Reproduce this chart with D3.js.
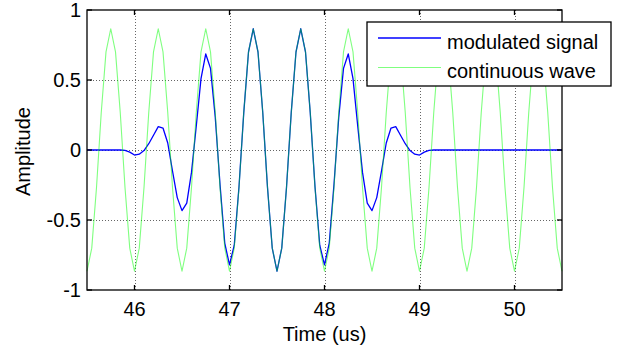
<!DOCTYPE html>
<html>
<head>
<meta charset="utf-8">
<script src="https://cdn.jsdelivr.net/npm/d3@7"></script>
<style>
  html, body { margin: 0; padding: 0; background: #fff; }
  svg { display: block; font-family: "Liberation Sans", Arial, sans-serif; }
</style>
</head>
<body>
<svg id="chart" width="619" height="349"></svg>
<script>
// Sample times (us), 45.5 to 50.5 in 0.05 us steps
const times = [
  45.50, 45.55, 45.60, 45.65, 45.70, 45.75, 45.80, 45.85, 45.90, 45.95,
  46.00, 46.05, 46.10, 46.15, 46.20, 46.25, 46.30, 46.35, 46.40, 46.45,
  46.50, 46.55, 46.60, 46.65, 46.70, 46.75, 46.80, 46.85, 46.90, 46.95,
  47.00, 47.05, 47.10, 47.15, 47.20, 47.25, 47.30, 47.35, 47.40, 47.45,
  47.50, 47.55, 47.60, 47.65, 47.70, 47.75, 47.80, 47.85, 47.90, 47.95,
  48.00, 48.05, 48.10, 48.15, 48.20, 48.25, 48.30, 48.35, 48.40, 48.45,
  48.50, 48.55, 48.60, 48.65, 48.70, 48.75, 48.80, 48.85, 48.90, 48.95,
  49.00, 49.05, 49.10, 49.15, 49.20, 49.25, 49.30, 49.35, 49.40, 49.45,
  49.50, 49.55, 49.60, 49.65, 49.70, 49.75, 49.80, 49.85, 49.90, 49.95,
  50.00, 50.05, 50.10, 50.15, 50.20, 50.25, 50.30, 50.35, 50.40, 50.45,
  50.50
];

// Burst (modulated signal) amplitude at each sample
const modulatedSignal = [
  0, 0, 0, 0, 0, 0, 0, 0, -0.003, -0.015,
  -0.036, -0.030, -0.004, 0.045, 0.105, 0.167, 0.157, 0.050, -0.150, -0.340,
  -0.433, -0.380, -0.160, 0.170, 0.510, 0.686, 0.583, 0.235, -0.245, -0.665,
  -0.821, -0.680, -0.262, 0.265, 0.700, 0.866, 0.700, 0.268, -0.268, -0.701,
  -0.866, -0.701, -0.268, 0.268, 0.700, 0.866, 0.700, 0.265, -0.262, -0.680,
  -0.821, -0.665, -0.245, 0.235, 0.583, 0.686, 0.510, 0.170, -0.160, -0.380,
  -0.433, -0.340, -0.150, 0.050, 0.157, 0.167, 0.105, 0.045, -0.004, -0.030,
  -0.036, -0.015, -0.003, 0, 0, 0, 0, 0, 0, 0,
  0, 0, 0, 0, 0, 0, 0, 0, 0, 0,
  0, 0, 0, 0, 0, 0, 0, 0, 0, 0,
  0
];

// Continuous 2 MHz wave at each sample
const continuousWave = [
  -0.866, -0.701, -0.268, 0.268, 0.701, 0.866, 0.701, 0.268, -0.268, -0.701,
  -0.866, -0.701, -0.268, 0.268, 0.701, 0.866, 0.701, 0.268, -0.268, -0.701,
  -0.866, -0.701, -0.268, 0.268, 0.701, 0.866, 0.701, 0.268, -0.268, -0.701,
  -0.866, -0.701, -0.268, 0.268, 0.701, 0.866, 0.701, 0.268, -0.268, -0.701,
  -0.866, -0.701, -0.268, 0.268, 0.701, 0.866, 0.701, 0.268, -0.268, -0.701,
  -0.866, -0.701, -0.268, 0.268, 0.701, 0.866, 0.701, 0.268, -0.268, -0.701,
  -0.866, -0.701, -0.268, 0.268, 0.701, 0.866, 0.701, 0.268, -0.268, -0.701,
  -0.866, -0.701, -0.268, 0.268, 0.701, 0.866, 0.701, 0.268, -0.268, -0.701,
  -0.866, -0.701, -0.268, 0.268, 0.701, 0.866, 0.701, 0.268, -0.268, -0.701,
  -0.866, -0.701, -0.268, 0.268, 0.701, 0.866, 0.701, 0.268, -0.268, -0.701,
  -0.866
];

const xTicks = [46, 47, 48, 49, 50];
const yTicks = [-1, -0.5, 0, 0.5, 1];
const yTickLabels = ["-1", "-0.5", "0", "0.5", "1"];
const seriesNames = ["modulated signal", "continuous wave"];
const xLabel = "Time (us)";
const yLabel = "Amplitude";

const svg = d3.select("#chart");
const plotL = 87, plotR = 562, plotT = 10, plotB = 290;
const fontSize = 20;

const x = d3.scaleLinear().domain([45.5, 50.5]).range([plotL, plotR]);
const y = d3.scaleLinear().domain([-1, 1]).range([plotB, plotT]);

// Dotted grid
const grid = svg.append("g")
  .attr("stroke", "#666")
  .attr("stroke-width", 1)
  .attr("stroke-dasharray", "1,2");
grid.selectAll("line.gx").data(xTicks).join("line")
  .attr("x1", d => Math.round(x(d)) + 0.5).attr("x2", d => Math.round(x(d)) + 0.5)
  .attr("y1", plotT).attr("y2", plotB);
grid.selectAll("line.gy").data(yTicks.slice(1, -1)).join("line")
  .attr("y1", d => Math.round(y(d)) + 0.5).attr("y2", d => Math.round(y(d)) + 0.5)
  .attr("x1", plotL).attr("x2", plotR);

// Data lines
const idx = d3.range(times.length);
const line = vals => d3.line().x(i => x(times[i])).y(i => y(vals[i]))(idx);

svg.append("path")
  .attr("d", line(modulatedSignal))
  .attr("fill", "none")
  .attr("stroke", "#0000ff")
  .attr("stroke-width", 1.3)
  .attr("stroke-linejoin", "round");

svg.append("path")
  .attr("d", line(continuousWave))
  .attr("fill", "none")
  .attr("stroke", "#00ff00")
  .attr("stroke-opacity", 0.5)
  .attr("stroke-width", 1.1)
  .attr("stroke-linejoin", "round");

// Axes box with inward ticks
const axisG = svg.append("g").attr("stroke", "#000").attr("stroke-width", 1.3).attr("fill", "none");
axisG.append("rect")
  .attr("x", plotL).attr("y", plotT)
  .attr("width", plotR - plotL).attr("height", plotB - plotT);
const tl = 5;
xTicks.forEach(t => {
  const px = x(t);
  axisG.append("line").attr("x1", px).attr("x2", px).attr("y1", plotB).attr("y2", plotB - tl);
  axisG.append("line").attr("x1", px).attr("x2", px).attr("y1", plotT).attr("y2", plotT + tl);
});
yTicks.forEach(t => {
  const py = y(t);
  axisG.append("line").attr("x1", plotL).attr("x2", plotL + tl).attr("y1", py).attr("y2", py);
  axisG.append("line").attr("x1", plotR).attr("x2", plotR - tl).attr("y1", py).attr("y2", py);
});

// Tick labels
svg.append("g").selectAll("text").data(xTicks).join("text")
  .attr("x", d => x(d)).attr("y", 315.5)
  .attr("text-anchor", "middle")
  .attr("font-size", fontSize)
  .attr("fill", "#000")
  .text(d => d);

svg.append("g").selectAll("text").data(yTicks).join("text")
  .attr("x", 81).attr("y", d => y(d) + 6.8)
  .attr("text-anchor", "end")
  .attr("font-size", fontSize)
  .attr("fill", "#000")
  .text((d, i) => yTickLabels[i]);

// Axis titles
svg.append("text")
  .attr("x", (plotL + plotR) / 2).attr("y", 341)
  .attr("text-anchor", "middle")
  .attr("font-size", fontSize)
  .text(xLabel);

svg.append("text")
  .attr("transform", "translate(30,151.5) rotate(-90)")
  .attr("text-anchor", "middle")
  .attr("font-size", fontSize)
  .text(yLabel);

// Legend
const lg = svg.append("g");
lg.append("rect")
  .attr("x", 367).attr("y", 22).attr("width", 244).attr("height", 64)
  .attr("fill", "#fff").attr("stroke", "#000").attr("stroke-width", 1.3);
const legendRows = [
  { name: seriesNames[0], color: "#0000ff", opacity: 1, width: 1.3, ly: 38 },
  { name: seriesNames[1], color: "#00ff00", opacity: 0.5, width: 1.1, ly: 67.5 }
];
legendRows.forEach(r => {
  lg.append("line")
    .attr("x1", 378).attr("x2", 441).attr("y1", r.ly).attr("y2", r.ly)
    .attr("stroke", r.color).attr("stroke-opacity", r.opacity).attr("stroke-width", r.width);
  lg.append("text")
    .attr("x", 447).attr("y", r.ly + 10.5)
    .attr("font-size", fontSize)
    .text(r.name);
});
</script>
</body>
</html>
